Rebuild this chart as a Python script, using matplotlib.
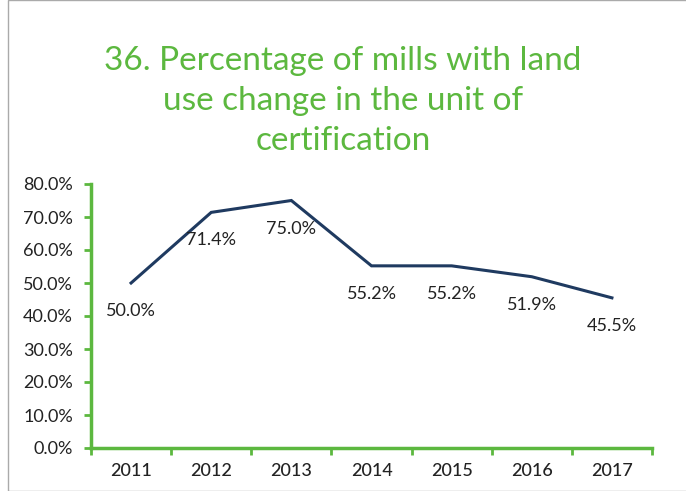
import matplotlib
matplotlib.use("Agg")
import matplotlib.pyplot as plt
import numpy as np

years = ["2011", "2012", "2013", "2014", "2015", "2016", "2017"]
values = [50.0, 71.4, 75.0, 55.2, 55.2, 51.9, 45.5]
title = "36. Percentage of mills with land\nuse change in the unit of\ncertification"

green = "#5cb83f"
navy = "#1f3a60"

plt.rcParams['font.family'] = ['Lato', 'DejaVu Sans']

fig = plt.figure(figsize=(6.86, 4.91), dpi=100)
ax = fig.add_axes([91/686, 1-448/491, (652-91)/686, (448-184)/491])

x = np.arange(len(years))
ax.plot(x, values, color=navy, lw=2.2, solid_joinstyle='miter')
for xi, v in zip(x, values):
    ax.annotate(f"{v:.1f}%", (xi, v), xytext=(0, -28), textcoords='offset pixels',
                ha='center', va='center', fontsize=13, color='#222222')

ax.set_xlim(-0.5, len(years) - 0.5)
ax.set_ylim(0, 80)
ax.set_yticks(np.arange(0, 81, 10))
ax.set_yticklabels([f"{t:.1f}%" for t in np.arange(0, 81, 10)], fontsize=13, color='#222222')
ax.set_xticks(x)
ax.set_xticklabels(years, fontsize=13, color='#222222', fontweight='medium')
ax.set_xticks(np.arange(-0.5, len(years)), minor=True)
ax.tick_params(axis='x', which='major', length=0, pad=11)
ax.tick_params(axis='x', which='minor', length=5, width=2, color=green, direction='out')
ax.tick_params(axis='y', which='major', length=5, width=2, color=green, direction='out', pad=8)

for s in ['top', 'right']:
    ax.spines[s].set_visible(False)
for s in ['left', 'bottom']:
    ax.spines[s].set_color(green)
    ax.spines[s].set_linewidth(2.5)

fig.text(0.5, 1-101/491, title, ha='center', va='center', fontsize=24, color=green,
         linespacing=1.42)

fig.patches.append(plt.Rectangle((8/686, 0), 1, 1, transform=fig.transFigure,
                                 fill=False, edgecolor='#aaaaaa', lw=1))

fig.savefig("out.png", dpi=100)
